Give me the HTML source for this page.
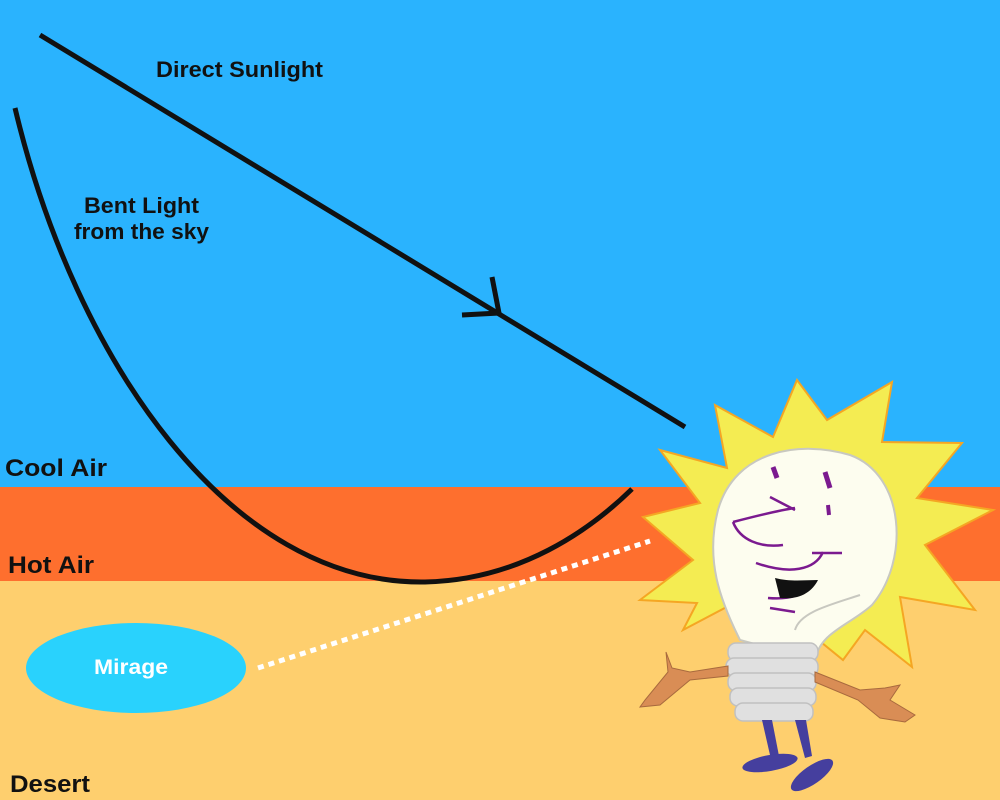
<!DOCTYPE html>
<html><head><meta charset="utf-8"><style>
html,body{margin:0;padding:0;width:1000px;height:800px;overflow:hidden}
svg{display:block}
text{font-family:"Liberation Sans",Arial,sans-serif;font-weight:bold;fill:#111}
</style></head><body>
<svg width="1000" height="800" viewBox="0 0 1000 800">
<rect x="0" y="0" width="1000" height="488" fill="#2ab3fe"/>
<rect x="0" y="487" width="1000" height="94" fill="#fe6f2e"/>
<rect x="0" y="581" width="1000" height="219" fill="#fecf6e"/>

<line x1="40" y1="35" x2="685" y2="427" stroke="#111" stroke-width="5"/>
<polyline points="492,277 499,313 462,315" fill="none" stroke="#111" stroke-width="5"/>
<path d="M15,108 C75,360 230,585 425,582 C520,580 590,530 632,489" fill="none" stroke="#111" stroke-width="5"/>
<line x1="258" y1="668" x2="650" y2="541" stroke="#fff" stroke-width="5" stroke-dasharray="6,5"/>

<ellipse cx="136" cy="668" rx="110" ry="45" fill="#29d2fd"/>
<text x="94" y="674" font-size="21" textLength="74" lengthAdjust="spacingAndGlyphs" style="fill:#fff">Mirage</text>

<text x="156" y="77" font-size="22" textLength="167" lengthAdjust="spacingAndGlyphs">Direct Sunlight</text>
<text x="84" y="213" font-size="22" textLength="115" lengthAdjust="spacingAndGlyphs">Bent Light</text>
<text x="74" y="239" font-size="22" textLength="135" lengthAdjust="spacingAndGlyphs">from the sky</text>
<text x="5" y="476" font-size="24" textLength="102" lengthAdjust="spacingAndGlyphs">Cool Air</text>
<text x="8" y="573" font-size="24" textLength="86" lengthAdjust="spacingAndGlyphs">Hot Air</text>
<text x="10" y="792" font-size="24" textLength="80" lengthAdjust="spacingAndGlyphs">Desert</text>

<g>
<polygon fill="#f4ec52" stroke="#f5a623" stroke-width="2"
 points="715,405 773,437 797,380 827,420 892,382 882,442 962,443 917,498 993,510 925,545 975,610 900,597 912,667 865,630 843,660 800,625 790,640 740,600 683,630 697,603 640,600 693,560 643,517 700,503 660,450 727,468"/>
<path d="M740,640 C720,600 705,560 718,510 C735,450 800,440 850,455 C905,475 910,560 872,605 C850,625 820,632 815,660 Z" fill="#fdfdef" stroke="#c8c8c0" stroke-width="2"/>
<path d="M795,630 C800,612 830,605 860,595" fill="none" stroke="#c8c8c0" stroke-width="2"/>
<g fill="#e0e0e0" stroke="#c0c0c0" stroke-width="1.5">
<rect x="728" y="643" width="90" height="18" rx="8"/>
<rect x="726" y="658" width="92" height="18" rx="8"/>
<rect x="728" y="673" width="88" height="18" rx="8"/>
<rect x="730" y="688" width="86" height="18" rx="8"/>
<rect x="735" y="703" width="78" height="18" rx="8"/>
</g>
<g fill="#453f9e">
<path d="M762,720 L770,755 L772,758 L779,756 L772,720 Z"/>
<path d="M795,720 L805,758 L812,756 L806,720 Z"/>
<ellipse cx="770" cy="763" rx="28" ry="8" transform="rotate(-10 770 763)"/>
<ellipse cx="812" cy="775" rx="25" ry="9" transform="rotate(-35 812 775)"/>
</g>
<g fill="#d98d55" stroke="#a86a3e" stroke-width="1">
<path d="M728,666 L690,672 L672,668 L666,652 L668,672 L645,700 L640,707 L660,705 L690,680 L728,676 Z"/>
<path d="M815,672 L860,690 L885,688 L900,685 L890,700 L915,715 L905,722 L880,718 L858,700 L815,682 Z"/>
</g>
<g fill="none" stroke="#7b1a8f" stroke-width="2.5">
<path d="M773,467 L777,478" stroke-width="5"/>
<path d="M825,472 L830,488" stroke-width="5"/>
<path d="M828,505 L829,515" stroke-width="4"/>
<path d="M770,497 L795,510"/>
<path d="M733,522 C760,515 780,510 795,508"/>
<path d="M733,522 C740,540 760,548 783,545"/>
<path d="M756,563 C790,575 815,570 823,552"/>
<path d="M812,553 L842,553"/>
<path d="M768,598 C790,600 805,595 815,582"/>
<path d="M770,608 L795,612"/>
</g>
<path d="M775,578 L780,598 C800,600 812,592 818,580 C805,580 790,582 775,578 Z" fill="#111"/>
</g>
</svg>
</body></html>
